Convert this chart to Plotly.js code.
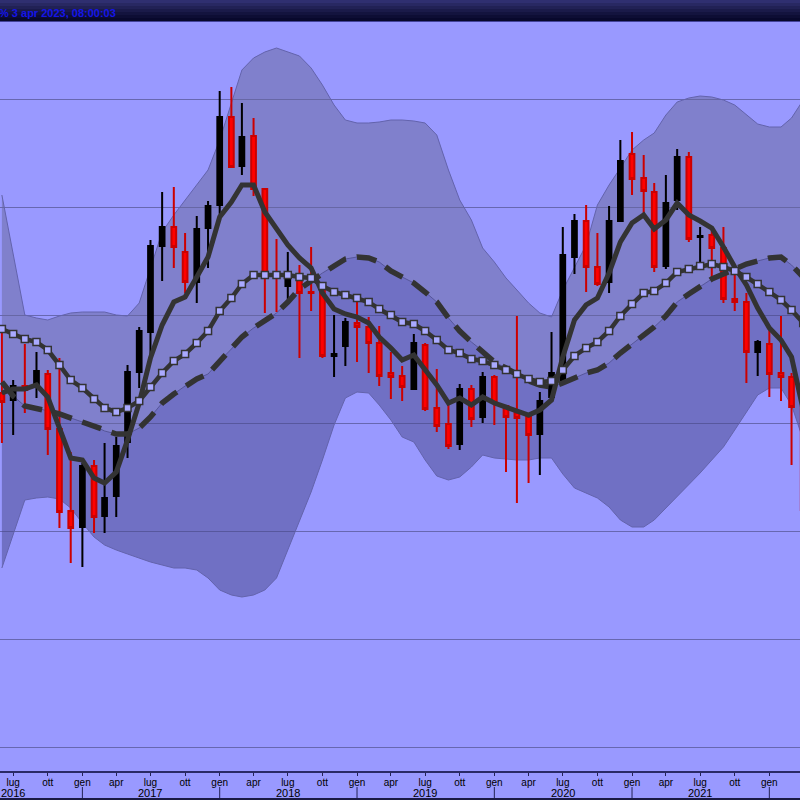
<!DOCTYPE html>
<html><head><meta charset="utf-8">
<script src="https://cdn.plot.ly/plotly-3.0.1.min.js"></script>
<style>html,body{margin:0;padding:0;background:#9999ff;overflow:hidden}#chart{width:800px;height:800px}</style>
</head><body><div id="chart"></div>
<script>
// ---- data (monthly) ----
const months = ['2016-06','2016-07','2016-08','2016-09','2016-10','2016-11','2016-12',
 '2017-01','2017-02','2017-03','2017-04','2017-05','2017-06','2017-07','2017-08','2017-09','2017-10','2017-11','2017-12',
 '2018-01','2018-02','2018-03','2018-04','2018-05','2018-06','2018-07','2018-08','2018-09','2018-10','2018-11','2018-12',
 '2019-01','2019-02','2019-03','2019-04','2019-05','2019-06','2019-07','2019-08','2019-09','2019-10','2019-11','2019-12',
 '2020-01','2020-02','2020-03','2020-04','2020-05','2020-06','2020-07','2020-08','2020-09','2020-10','2020-11','2020-12',
 '2021-01','2021-02','2021-03','2021-04','2021-05','2021-06','2021-07','2021-08','2021-09','2021-10','2021-11','2021-12',
 '2022-01','2022-02','2022-03','2022-04'];

const openP = [46.2,45.5,46.9,47.0,48.1,42.6,34.4,
 32.8,38.9,33.9,35.9,41.3,48.3,52.3,60.9,62.8,60.3,57.3,62.7,
 65.0,73.8,68.9,71.9,66.6,58.2,56.9,57.7,56.3,56.7,49.9,50.9,
 53.2,52.8,51.2,48.2,47.9,46.6,51.0,44.7,43.1,41.1,46.6,43.8,
 47.8,44.9,44.2,43.8,42.1,45.8,47.2,59.8,63.4,58.8,57.3,63.4,
 70.1,67.7,66.3,58.9,65.5,69.8,61.8,62.0,60.7,55.6,55.3,50.3,
 51.1,48.2,47.8,44.8];
const highP = [52.5,47.5,51.1,50.3,48.5,49.7,40.3,
 39.2,39.5,41.2,41.8,49.0,52.8,61.5,66.3,66.8,62.2,63.9,65.4,
 76.4,76.8,75.2,73.7,66.6,61.6,60.3,59.0,60.8,57.2,54.0,53.7,
 55.6,53.8,52.9,50.3,48.9,52.1,51.2,48.6,45.0,47.1,47.0,48.3,
 48.0,44.9,53.9,43.8,46.3,52.3,62.8,64.1,65.0,62.2,64.9,71.5,
 72.3,70.0,67.2,68.0,70.6,70.3,62.8,62.5,62.8,58.5,56.2,51.5,
 52.8,53.9,48.2,45.0];
const lowP = [41.2,42.0,44.2,45.7,40.0,32.7,29.2,
 28.8,32.2,32.2,33.8,39.7,46.7,49.8,57.4,58.7,56.2,55.2,58.7,
 63.8,68.8,68.0,65.9,54.2,54.3,55.5,49.7,54.4,49.7,47.8,48.9,
 49.3,48.2,46.9,45.6,45.4,46.6,44.4,42.3,40.6,40.5,42.8,43.2,
 43.0,38.3,35.2,37.2,38.0,45.8,47.2,58.1,56.3,56.9,56.2,63.4,
 66.0,64.2,58.3,58.6,64.5,61.3,59.3,57.8,55.2,54.4,47.2,47.9,
 45.8,45.4,39.0,33.2];
const closeP = [45.3,46.9,46.5,48.4,42.6,34.3,32.7,
 38.9,33.8,35.7,40.9,48.3,52.4,60.9,62.8,60.8,57.3,62.6,64.9,
 73.8,68.8,71.8,66.6,58.2,57.8,57.8,56.2,56.2,49.9,50.1,53.3,
 52.8,51.2,47.9,47.8,46.8,51.2,44.6,42.9,40.9,46.6,43.6,47.8,
 45.2,43.8,43.7,42.0,45.4,48.2,60.0,63.4,58.8,57.1,63.4,69.4,
 67.6,66.4,58.8,65.2,69.8,61.6,61.9,60.7,55.6,55.3,50.3,51.3,
 48.1,47.8,44.8,34.5];

// fast moving average (solid)
const fastMA = [46.2,46.6,46.6,47.0,45.8,42.7,39.7,
 39.5,37.7,37.2,38.3,41.5,45.2,49.7,53.0,55.3,55.8,57.8,59.8,
 63.8,65.3,67.0,67.0,64.3,62.7,61.0,59.7,58.7,56.2,54.6,54.1,
 53.8,53.2,51.8,50.7,49.5,50.0,48.5,47.0,45.2,45.7,45.0,45.8,
 45.2,44.8,44.5,44.0,44.5,45.5,49.8,53.5,55.0,55.7,58.2,61.3,
 63.2,64.0,62.6,63.5,65.2,64.0,63.4,62.7,60.8,58.8,57.0,54.7,
 52.7,51.5,49.8,44.5];
// slow moving average (with square markers)
const slowMA = [52.6,52.1,51.6,51.3,50.5,49.0,47.5,
 46.7,45.6,44.7,44.3,44.7,45.4,46.8,48.2,49.4,50.1,51.2,52.4,
 54.4,55.7,57.1,58.0,58.0,58.0,58.0,57.8,57.7,56.9,56.3,56.0,
 55.7,55.3,54.6,54.0,53.3,53.1,52.4,51.5,50.5,50.2,49.6,49.4,
 49.0,48.5,48.1,47.6,47.3,47.4,48.5,49.9,50.7,51.3,52.4,53.9,
 55.1,56.2,56.4,57.2,58.3,58.6,58.9,59.1,58.8,58.4,57.8,57.1,
 56.3,55.5,54.5,53.2];
// Bollinger bands
const bandMid = [47.3,45.9,44.9,44.7,44.4,44.1,43.7,
 43.3,42.9,42.4,42.1,42.1,42.7,43.8,45.2,46.1,46.9,47.6,48.1,
 49.4,50.6,51.8,52.7,53.4,54.2,55.3,56.6,57.4,58.2,58.9,59.6,
 59.8,59.7,59.3,58.4,57.8,57.2,56.3,55.3,53.7,52.4,51.3,50.4,
 49.3,48.7,48.0,47.4,47.0,46.8,47.2,47.7,48.2,48.5,49.2,50.2,
 51.1,52.0,52.8,53.9,55.3,56.1,56.8,57.6,58.1,58.6,59.1,59.4,
 59.7,59.8,59.0,57.8];
const bandUpper = [66.0,60.0,54.0,53.7,53.5,53.9,54.2,
 54.3,54.3,54.3,54.0,53.9,55.2,58.7,62.3,64.0,65.5,67.0,68.5,
 71.5,75.1,78.5,79.7,80.3,80.7,80.3,79.9,78.7,77.0,75.0,73.5,
 73.2,73.2,73.3,73.5,73.5,73.4,73.2,72.0,68.5,65.5,63.5,60.7,
 59.3,57.7,56.5,55.2,54.2,53.8,56.5,58.7,61.0,65.0,67.0,68.7,
 70.5,71.5,72.2,74.0,75.3,75.7,75.9,75.8,75.5,75.0,74.0,73.1,
 72.8,72.8,73.7,75.5];
const bandLower = [28.7,32.0,35.5,35.7,35.8,35.6,34.7,
 33.2,31.8,31.0,30.5,30.1,29.7,29.3,29.0,28.7,28.7,28.5,27.7,
 26.5,26.0,25.8,26.0,26.5,27.7,30.5,33.5,36.3,39.5,43.0,45.7,
 46.3,46.2,45.0,43.5,41.8,41.3,39.5,37.9,37.5,37.8,38.8,40.0,
 39.7,39.6,39.5,39.5,39.7,39.7,38.1,36.7,36.2,35.7,34.8,33.5,
 32.8,32.8,33.5,34.7,35.8,37.0,38.2,39.5,40.8,42.5,44.3,46.0,
 46.7,46.7,45.0,41.5];

// axis ticks and labels
const tickVals = ['2016-07-01','2016-10-01','2017-01-01','2017-04-01','2017-07-01','2017-10-01',
 '2018-01-01','2018-04-01','2018-07-01','2018-10-01','2019-01-01','2019-04-01','2019-07-01','2019-10-01',
 '2020-01-01','2020-04-01','2020-07-01','2020-10-01','2021-01-01','2021-04-01','2021-07-01','2021-10-01','2022-01-01'];
const tickText = ['lug','ott','gen','apr','lug','ott',
 'gen','apr','lug','ott','gen','apr','lug','ott',
 'gen','apr','lug','ott','gen','apr','lug','ott','gen'];
const yearLabelPos = ['2016-07-01','2017-07-01','2018-07-01','2019-07-01','2020-07-01','2021-07-01'];
const yearLabels = ['2016','2017','2018','2019','2020','2021'];
const yearStarts = ['2017-01-01','2018-01-01','2019-01-01','2020-01-01','2021-01-01','2022-01-01'];
const headerText = '% 3 apr 2023, 08:00:03';

// ---- layout helpers ----
const H = 800, T = 22, B = 29;
const py = Y => (H - B - Y) / (H - T - B);
const yRange = [8.4, 83.3];

const traces = [
 {type:'scatter', mode:'lines', x:months, y:bandUpper, line:{color:'#6363ac', width:1}, hoverinfo:'skip'},
 {type:'scatter', mode:'lines', x:months, y:bandMid, fill:'tonexty', fillcolor:'rgba(103,103,153,0.5)', line:{color:'#565699', width:1}, hoverinfo:'skip'},
 {type:'scatter', mode:'lines', x:months, y:bandLower, fill:'tonexty', fillcolor:'rgba(71,71,137,0.5)', line:{color:'#6363ac', width:1}, hoverinfo:'skip'},
 {type:'candlestick', x:months, open:openP, high:highP, low:lowP, close:closeP, yaxis:'y2',
  increasing:{line:{color:'#000000', width:2}, fillcolor:'#000000'},
  decreasing:{line:{color:'#cc0000', width:2}, fillcolor:'#ff0000'},
  whiskerwidth:0, hoverinfo:'skip'},
 {type:'scatter', mode:'lines', x:months, y:fastMA, yaxis:'y3', line:{color:'#333333', width:5}, hoverinfo:'skip'},
 {type:'scatter', mode:'lines', x:months, y:bandMid, yaxis:'y3', line:{color:'#333333', width:5.5, dash:'20px,11px'}, hoverinfo:'skip'},
 {type:'scatter', mode:'lines+markers', x:months, y:slowMA, yaxis:'y3', line:{color:'#333333', width:4.5},
  marker:{symbol:'square', size:7, color:'#aaaaff', line:{color:'#333333', width:1.5}}, hoverinfo:'skip'}
];

const shapes = [];
const grad = ['#2f2f70','#282862','#212155','#1a1a49','#13133e','#0d0d34','#08082c'];
grad.forEach((c, i) => shapes.push({type:'rect', xref:'paper', yref:'paper', x0:0, x1:1,
  y0:py(3*i+3), y1:py(3*i), fillcolor:c, line:{width:0}, layer:'above'}));
shapes.push({type:'line', xref:'paper', yref:'paper', x0:0, x1:1, y0:py(21.5), y1:py(21.5), line:{color:'#43439a', width:1}});
yearStarts.forEach(d => shapes.push({type:'line', xref:'x', yref:'paper', x0:d, x1:d, y0:py(787), y1:py(798),
  line:{color:'#222255', width:1}}));
shapes.push({type:'line', xref:'paper', yref:'paper', x0:0, x1:1, y0:py(799), y1:py(799), line:{color:'#1a1a44', width:2}});

const annotations = [{text:'<b>' + headerText + '</b>', xref:'paper', yref:'paper', x:0, y:py(12.5),
    xanchor:'left', yanchor:'middle', xshift:-3, showarrow:false,
    font:{family:'Liberation Sans, Arial, sans-serif', size:11, color:'#1515e8'}}];
yearLabels.forEach((t, i) => annotations.push({text:t, xref:'x', yref:'paper', x:yearLabelPos[i], y:py(793),
    xanchor:'center', yanchor:'middle', showarrow:false,
    font:{family:'Liberation Sans, Arial, sans-serif', size:11, color:'#000000'}}));

const hiddenY = {range:yRange, overlaying:'y', showgrid:false, zeroline:false, showticklabels:false,
  ticks:'', showline:false, fixedrange:true};

const layout = {
  width:800, height:800,
  margin:{l:0, r:0, t:T, b:B, pad:0},
  paper_bgcolor:'#9999ff', plot_bgcolor:'#9999ff',
  showlegend:false, hovermode:false, boxgap:0.36,
  xaxis:{type:'date', range:['2016-05-27','2022-03-23 12:00'], rangeslider:{visible:false},
    tickmode:'array', tickvals:tickVals, ticktext:tickText,
    ticks:'outside', ticklen:3, tickwidth:1, tickcolor:'#222255', ticklabelstandoff:-2,
    showline:true, linecolor:'#2a2a66', linewidth:1.5, showgrid:false, zeroline:false,
    tickfont:{family:'Liberation Sans, Arial, sans-serif', size:10, color:'#000000'}, fixedrange:true},
  yaxis:{range:yRange, tick0:0, dtick:10.8, showticklabels:false, ticks:'',
    gridcolor:'#6767b0', gridwidth:1, zeroline:false, showline:false, fixedrange:true},
  yaxis2:Object.assign({}, hiddenY),
  yaxis3:Object.assign({}, hiddenY),
  shapes:shapes,
  annotations:annotations
};

Plotly.newPlot('chart', traces, layout, {displayModeBar:false, staticPlot:true});
</script></body></html>
